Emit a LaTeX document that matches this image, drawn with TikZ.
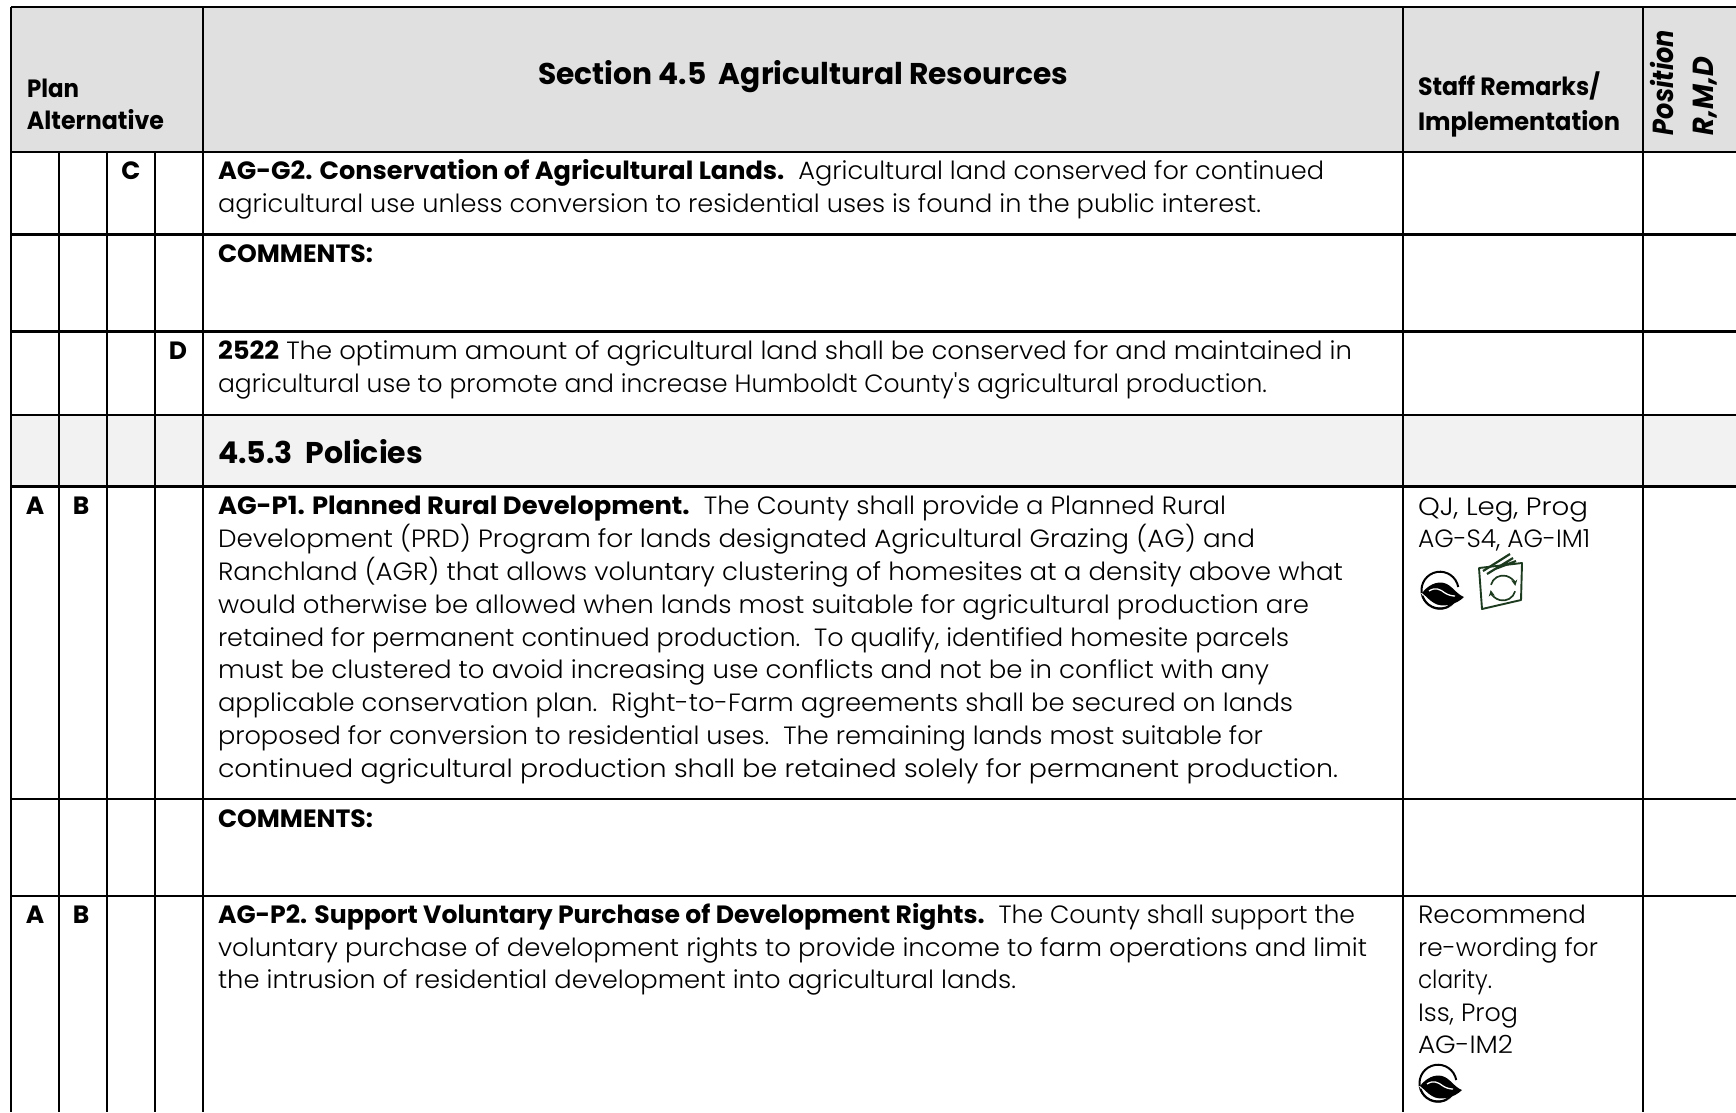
\documentclass[tikz,border=0pt]{standalone}
\usepackage{fontspec}
\usepackage{graphicx}
\usetikzlibrary{arrows.meta}
\setmainfont{Poppins}[UprightFont=* Light,BoldFont=* Bold,BoldItalicFont=* Bold Italic,ItalicFont=* Light Italic]
\newfontfamily\plainquote{Poppins Light}[Ligatures=ResetAll]
\definecolor{headgray}{HTML}{E0E0E0}
\definecolor{subgray}{HTML}{F2F2F2}
\definecolor{bookgreen}{HTML}{1C3A1E}
\tikzset{
  rule/.style={line width=2.4pt,black},
  txt/.style={anchor=base west,inner sep=0pt,outer sep=0pt,font=\fontsize{25}{30}\selectfont},
  bigtxt/.style={txt,font=\fontsize{30}{36}\selectfont\bfseries},
  boldtxt/.style={txt,font=\fontsize{25}{30}\selectfont\bfseries},
  rottxt/.style={txt,rotate=90,font=\fontsize{29}{34}\selectfont\bfseries\itshape},
  letter/.style={anchor=base,inner sep=0pt,outer sep=0pt,font=\fontsize{25}{30}\selectfont\bfseries},
  book/.style={draw=bookgreen,line width=1.9pt,line join=round},
  pics/leaficon/.style={code={
    \draw[line width=2pt] (18.2,-3) arc[start angle=-10,end angle=-330,radius=18.5];
    \fill[white] (-19,3) -- (25,7) -- (10,17) -- (-10,17) -- cycle;
    \fill (-18,3) .. controls (-12,-5) and (-3,-9) .. (4,-7) .. controls (12,-5) and (16,4) .. (24,7) .. controls (16,15) and (2,18) .. (-6,13) .. controls (-11,10) and (-14,6) .. (-18,3) -- cycle;
    \draw[white,line width=1.3pt] (-11,1) .. controls (-5,-3) and (0,-1) .. (5,3) .. controls (8,5) and (12,6) .. (15,6);
    \draw[line width=2pt] (-17.5,6) arc[start angle=161,end angle=40,radius=18.5];
  }},
}
\newcommand{\fitln}[6]{\node[#2] (#1) at (#3,#4) {\resizebox{#5pt}{\height}{#6}};}
\begin{document}
\begin{tikzpicture}[x=1pt,y=-1pt]
\useasboundingbox (0,0) rectangle (1736,1112);
\fill[white] (0,0) rectangle (1736,1112);
\clip (0,0) rectangle (1736,1112);
% fills
\fill[headgray] (11,7) rectangle (1736,152);
\fill[subgray] (11,415) rectangle (1736,486.5);
% rules
\draw[rule] (11,7) -- (1736,7);
\foreach \yy in {152,234.5,331.5,415,486.5,799,896} \draw[rule] (11,\yy) -- (1736,\yy);
\foreach \xx in {11,203,1403,1643} \draw[rule] (\xx,7) -- (\xx,1112);
\foreach \xx in {59,107,155} \draw[rule] (\xx,152) -- (\xx,1112);
% header
\fitln{plan}{boldtxt}{27}{97}{52}{Plan}
\fitln{alt}{boldtxt}{27}{129}{137}{Alternative}
\fitln{sect}{bigtxt}{538}{84}{530}{Section 4.5\ \ Agricultural Resources}
\fitln{staff}{boldtxt}{1418}{95}{182}{Staff Remarks/}
\fitln{impl}{boldtxt}{1418}{130}{202}{Implementation}
\node[rottxt] (pos) at (1673,135) {\resizebox{105pt}{\height}{Position}};
\node[rottxt] (rmd) at (1713,135) {\resizebox{78pt}{\height}{R,M,D}};
% row letters
\node[letter] (c1) at (131,179) {C};
\node[letter] (d1) at (178,359) {D};
\node[letter] (a1) at (35,514) {A};
\node[letter] (b1) at (81,514) {B};
\node[letter] (a2) at (35,923) {A};
\node[letter] (b2) at (81,923) {B};
% body
\fitln{g1}{txt}{218}{179}{1106}{\textbf{AG-G2. Conservation of Agricultural Lands.}\ \ Agricultural land conserved for continued}
\fitln{g2}{txt}{218}{212}{1043}{agricultural use unless conversion to residential uses is found in the public interest.}
\fitln{cm1}{boldtxt}{218}{262}{155}{COMMENTS:}
\fitln{d1a}{txt}{218}{359}{1134}{\textbf{2522} The optimum amount of agricultural land shall be conserved for and maintained in}
\fitln{d1b}{txt}{218}{392}{1049}{agricultural use to promote and increase Humboldt County{\plainquote '}s agricultural production.}
\fitln{pol}{bigtxt}{218}{463}{205}{4.5.3\ \ Policies}
\fitln{p1}{txt}{218}{514}{1008}{\textbf{AG-P1. Planned Rural Development.}\ \ The County shall provide a Planned Rural}
\fitln{p2}{txt}{218}{547}{1037}{Development (PRD) Program for lands designated Agricultural Grazing (AG) and}
\fitln{p3}{txt}{218}{580}{1125}{Ranchland (AGR) that allows voluntary clustering of homesites at a density above what}
\fitln{p4}{txt}{218}{613}{1091}{would otherwise be allowed when lands most suitable for agricultural production are}
\fitln{p5}{txt}{218}{646}{1071}{retained for permanent continued production.\ \ To qualify, identified homesite parcels}
\fitln{p6}{txt}{218}{678}{1051}{must be clustered to avoid increasing use conflicts and not be in conflict with any}
\fitln{p7}{txt}{218}{711}{1075}{applicable conservation plan.\ \ Right-to-Farm agreements shall be secured on lands}
\fitln{p8}{txt}{218}{744}{1045}{proposed for conversion to residential uses.\ \ The remaining lands most suitable for}
\fitln{p9}{txt}{218}{777}{1120}{continued agricultural production shall be retained solely for permanent production.}
\fitln{cm2}{boldtxt}{218}{827}{155}{COMMENTS:}
\fitln{q1}{txt}{218}{923}{1137}{\textbf{AG-P2. Support Voluntary Purchase of Development Rights.}\ \ The County shall support the}
\fitln{q2}{txt}{218}{956}{1149}{voluntary purchase of development rights to provide income to farm operations and limit}
\fitln{q3}{txt}{218}{988}{798}{the intrusion of residential development into agricultural lands.}
% staff column
\fitln{r1}{txt}{1418}{515}{170}{QJ, Leg, Prog}
\fitln{r2}{txt}{1418}{547}{172}{AG-S4, AG-IM1}
\fitln{s1}{txt}{1418}{923}{168}{Recommend}
\fitln{s2}{txt}{1418}{956}{180}{re-wording for}
\fitln{s3}{txt}{1418}{988}{74}{clarity.}
\fitln{s4}{txt}{1418}{1021}{100}{Iss, Prog}
\fitln{s5}{txt}{1418}{1053}{95}{AG-IM2}
% icons
\pic at (1440,590) {leaficon};
\pic at (1438,1083) {leaficon};
\draw[book] (1479,568) -- (1522,563) -- (1521,600) -- (1482,609) -- cycle;
\draw[book,line width=2.2pt] (1483,571) -- (1510,554) (1487,574) -- (1513,558) (1495,569) -- (1516,561);
\draw[book,line width=1.7pt,-{Stealth[length=6pt,width=6pt]}] (1503,588) ++(-165:12.5) arc[start angle=-165,end angle=-10,radius=12.5];
\draw[book,line width=1.7pt,-{Stealth[length=6pt,width=6pt]}] (1503,588) ++(15:12.5) arc[start angle=15,end angle=170,radius=12.5];
\end{tikzpicture}
\end{document}
